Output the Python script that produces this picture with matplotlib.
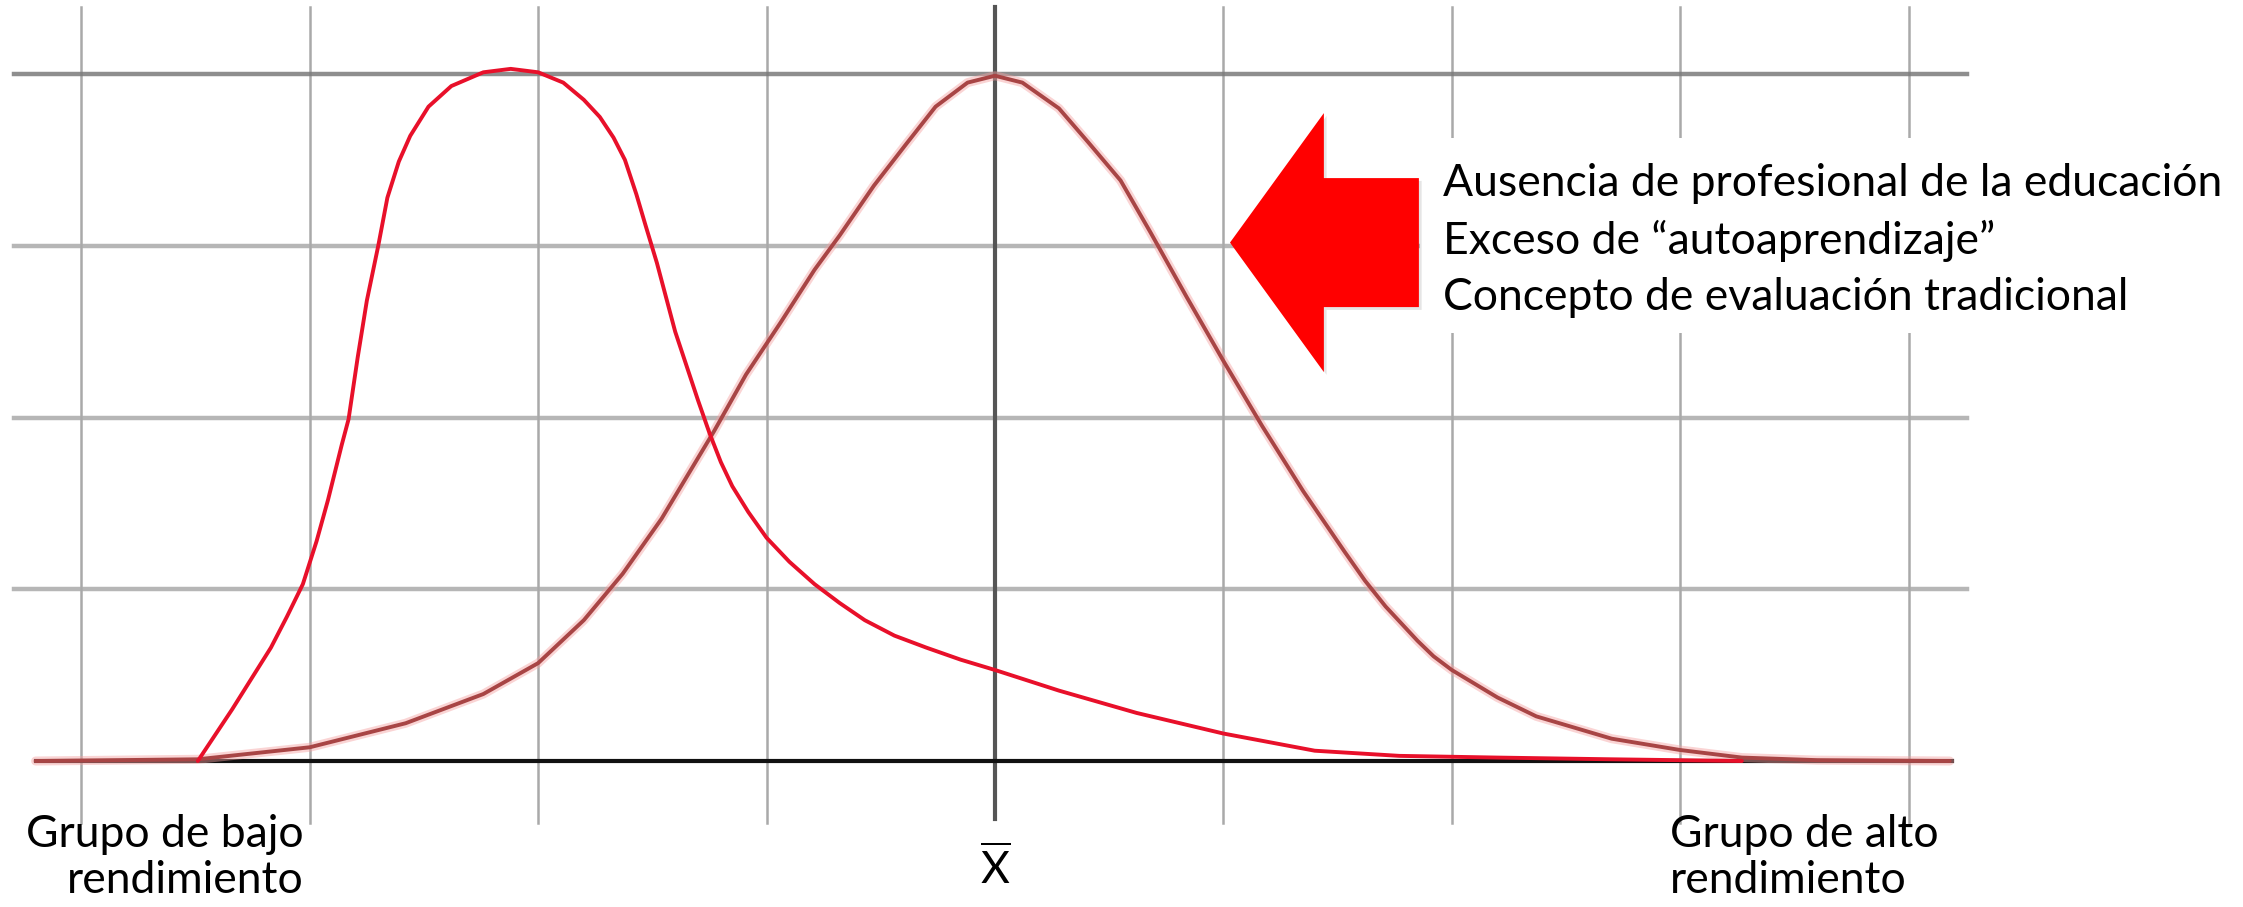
import matplotlib
matplotlib.use("Agg")
import matplotlib.pyplot as plt
from matplotlib.patches import FancyArrow, Rectangle

plt.rcParams['font.family'] = ['Lato', 'DejaVu Sans']
plt.rcParams['mathtext.fontset'] = 'custom'
plt.rcParams['mathtext.rm'] = 'Lato'

# grid positions (in grid units, mean at 0)
grid_x = [-4, -3, -2, -1, 1, 2, 3, 4]
grid_y = [1, 2, 3, 4]

# low performance group curve (bright red)
low_x = [-3.49, -3.34, -3.17, -3.10, -3.03, -2.97, -2.92, -2.86, -2.83, -2.79,
         -2.75, -2.70, -2.66, -2.61, -2.56, -2.48, -2.38, -2.24, -2.12, -2.0,
         -1.89, -1.80, -1.73, -1.67, -1.62, -1.57, -1.53, -1.48, -1.44, -1.40,
         -1.35, -1.30, -1.25, -1.20, -1.15, -1.08, -1.0, -0.90, -0.79, -0.68,
         -0.57, -0.44, -0.30, -0.15, 0.0, 0.28, 0.62, 1.0, 1.40, 1.77,
         2.2, 2.7, 3.27]
low_y = [0.0, 0.30, 0.66, 0.84, 1.03, 1.28, 1.52, 1.84, 1.99, 2.35,
         2.68, 3.0, 3.28, 3.49, 3.64, 3.81, 3.93, 4.01, 4.03, 4.01,
         3.95, 3.85, 3.75, 3.63, 3.50, 3.30, 3.12, 2.90, 2.70, 2.50,
         2.30, 2.10, 1.91, 1.74, 1.60, 1.45, 1.30, 1.16, 1.03, 0.92,
         0.82, 0.73, 0.66, 0.59, 0.53, 0.41, 0.28, 0.16, 0.06, 0.03,
         0.02, 0.01, 0.0]

# normal curve (dark red)
norm_x = [-4.20, -3.49, -3.0, -2.58, -2.24, -2.0, -1.80, -1.63, -1.46, -1.23,
          -1.09, -0.94, -0.79, -0.68, -0.53, -0.39, -0.26, -0.12, 0.0, 0.12,
          0.28, 0.41, 0.55, 0.68, 0.84, 1.0, 1.17, 1.35, 1.53, 1.62,
          1.71, 1.85, 1.92, 2.0, 2.2, 2.37, 2.7, 3.0, 3.27, 3.6,
          4.18]
norm_y = [0.0, 0.01, 0.08, 0.22, 0.39, 0.57, 0.82, 1.09, 1.41, 1.92,
          2.25, 2.55, 2.86, 3.06, 3.35, 3.59, 3.81, 3.95, 3.99, 3.95,
          3.80, 3.60, 3.38, 3.08, 2.70, 2.33, 1.95, 1.57, 1.22, 1.05,
          0.90, 0.70, 0.61, 0.53, 0.37, 0.26, 0.13, 0.064, 0.02, 0.005,
          0.0]

causes = ["Ausencia de profesional de la educación",
          "Exceso de \u201cautoaprendizaje\u201d",
          "Concepto de evaluación tradicional"]

fig = plt.figure(figsize=(22.43, 9.07), dpi=100)
ax = fig.add_axes([0, 0, 1, 1])
ax.set_xlim(-4.356, 5.464)
ax.set_ylim(-0.850, 4.431)
ax.axis('off')

# grid
for gx in grid_x:
    ax.plot([gx, gx], [-0.36, 4.39], color='#a9a9a9', lw=1.8, zorder=1)
for gy in grid_y:
    ax.plot([-4.295, 4.256], [gy, gy], color='#7a7a7a' if gy == 4 else '#aaaaaa',
            lw=3.2, alpha=0.85, zorder=1)
ax.plot([0, 0], [-0.34, 4.39], color='#555555', lw=3.0, zorder=2)
ax.plot([-4.2, 4.19], [0, 0], color='#111111', lw=3.0, zorder=2)

# curves
ax.plot(norm_x, norm_y, color='#f4a0a0', lw=6.5, alpha=0.45, zorder=3,
        solid_capstyle='round', solid_joinstyle='round')
ax.plot(norm_x, norm_y, color='#a84545', lw=2.8, zorder=4,
        solid_capstyle='round', solid_joinstyle='round')
ax.plot(low_x, low_y, color='#e8102a', lw=2.8, zorder=5,
        solid_capstyle='round', solid_joinstyle='round')

# white box behind text
ax.add_patch(Rectangle((1.86, 2.49), 3.7, 1.14, facecolor='white',
                       edgecolor='none', zorder=6))

# arrow with soft shadow
ax.add_patch(FancyArrow(1.868, 3.002, -0.827, 0, width=0.751, head_width=1.508,
                        head_length=0.411, length_includes_head=True,
                        facecolor='#999999', edgecolor='none', alpha=0.25,
                        zorder=6))
ax.add_patch(FancyArrow(1.856, 3.0185, -0.827, 0, width=0.751, head_width=1.508,
                        head_length=0.411, length_includes_head=True,
                        facecolor='#ff0000', edgecolor='none', zorder=7))

for i, t in enumerate(causes):
    ax.text(1.96, 3.36 - i * 0.332, t, fontsize=32, ha='left', va='center',
            color='black', zorder=8)

ax.text(-3.025, -0.56, "Grupo de bajo\nrendimiento", fontsize=32, ha='right',
        va='center', linespacing=1.15, multialignment='right')
ax.text(2.955, -0.56, "Grupo de alto\nrendimiento", fontsize=32, ha='left',
        va='center', linespacing=1.15)
ax.text(0, -0.63, r'$\overline{\mathrm{X}}$', fontsize=32, ha='center',
        va='center')

fig.savefig("out.png", dpi=100, facecolor='white')
